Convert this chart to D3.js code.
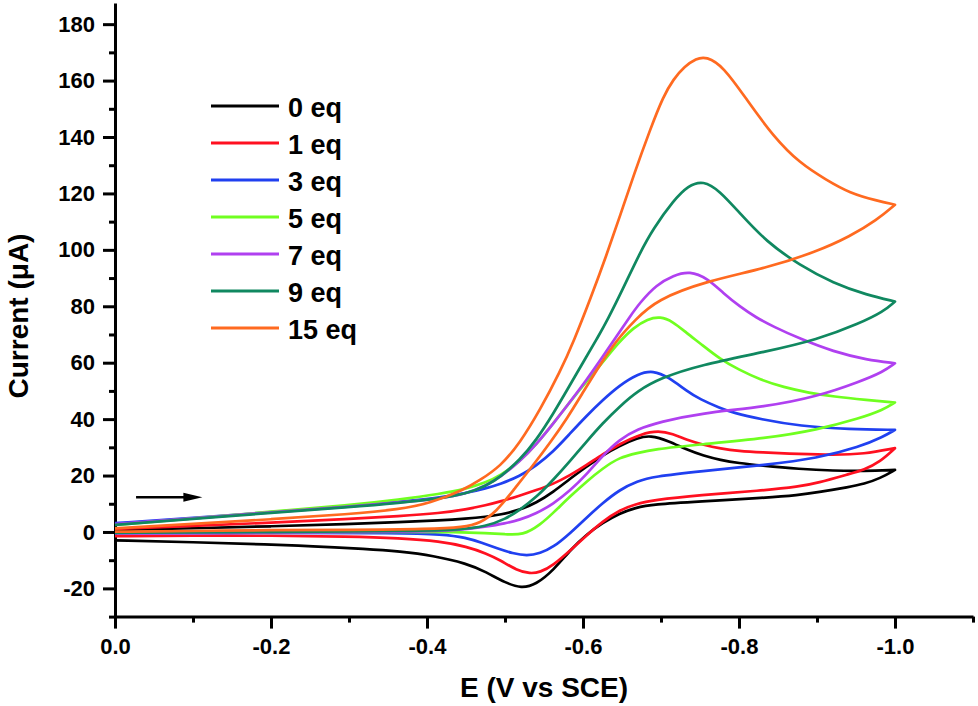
<!DOCTYPE html>
<html>
<head>
<meta charset="utf-8">
<script src="https://cdn.jsdelivr.net/npm/d3@7"></script>
<style>
  body { margin: 0; background: #fff; }
  text { font-family: "Liberation Sans", Arial, sans-serif; font-weight: bold; }
</style>
</head>
<body>
<div id="cv-chart"></div>
<script>
// cyclic voltammograms, one per equivalent added
// each series: forward scan 0 -> -1.0 V, then reverse scan -1.0 -> 0 V, [E (V), I (uA)]

const labels = ["0 eq", "1 eq", "3 eq", "5 eq", "7 eq", "9 eq", "15 eq"];
const colors = ["#000000", "#ff1020", "#2040f0", "#70ff20", "#b040f0", "#108860", "#ff6a20"];

const eq0Fwd = [[0, 0.7], [-0.1, 1.3], [-0.2, 2.0], [-0.3, 2.8], [-0.365, 3.5], [-0.417, 4.1], [-0.45, 4.7],
  [-0.476, 5.4], [-0.494, 6.1], [-0.519, 7.8], [-0.54, 10.3], [-0.562, 14.2], [-0.583, 18.8], [-0.605, 23.2],
  [-0.625, 27.2], [-0.647, 30.6], [-0.67, 33.3], [-0.686, 34.3], [-0.71, 32.3], [-0.733, 29.1], [-0.755, 27.0],
  [-0.776, 25.5], [-0.8, 24.4], [-0.827, 23.6], [-0.878, 22.3], [-0.921, 21.7], [-0.96, 21.6], [-1.0, 22.0]];
const eq0Rev = [[-1.0, 22.0], [-0.981, 19.0], [-0.96, 17.0], [-0.942, 16.0], [-0.9, 14.0], [-0.878, 13.1],
  [-0.827, 12.0], [-0.75, 10.8], [-0.69, 9.8], [-0.667, 8.6], [-0.647, 6.6], [-0.625, 3.2], [-0.605, -0.8],
  [-0.585, -6.0], [-0.562, -13.6], [-0.54, -18.6], [-0.521, -20.0], [-0.5, -18.0], [-0.476, -14.2],
  [-0.451, -11.2], [-0.408, -8.4], [-0.365, -6.9], [-0.323, -6.0], [-0.25, -5.0], [-0.2, -4.5], [-0.1, -3.6], [0, -3.0]];

const eq1Fwd = [[0, 1.1], [-0.1, 2.1], [-0.2, 3.3], [-0.3, 4.6], [-0.365, 5.6], [-0.417, 6.7], [-0.45, 8.0],
  [-0.476, 9.5], [-0.494, 10.8], [-0.519, 12.9], [-0.54, 14.8], [-0.562, 17.0], [-0.583, 20.0], [-0.605, 23.8],
  [-0.625, 27.5], [-0.647, 31.2], [-0.675, 34.8], [-0.697, 35.9], [-0.715, 34.8], [-0.733, 32.6], [-0.755, 30.8],
  [-0.776, 29.6], [-0.8, 28.7], [-0.827, 28.2], [-0.878, 27.6], [-0.921, 27.3], [-0.96, 27.6], [-1.0, 29.7]];
const eq1Rev = [[-1.0, 29.7], [-0.981, 24.9], [-0.96, 22.0], [-0.942, 20.6], [-0.9, 17.3], [-0.878, 16.1],
  [-0.827, 14.6], [-0.75, 13.1], [-0.69, 11.3], [-0.667, 9.8], [-0.647, 7.8], [-0.625, 3.7], [-0.605, -1.1],
  [-0.585, -6.2], [-0.562, -11.8], [-0.545, -14.3], [-0.532, -14.8], [-0.515, -13.6], [-0.494, -10.0],
  [-0.476, -7.6], [-0.451, -5.2], [-0.417, -3.3], [-0.365, -2.2], [-0.3, -1.6], [-0.2, -1.3], [-0.1, -1.3], [0, -1.5]];

const eq3Fwd = [[0, 3.1], [-0.1, 5.0], [-0.2, 7.0], [-0.3, 9.0], [-0.365, 10.7], [-0.417, 12.2], [-0.45, 13.8],
  [-0.476, 15.5], [-0.494, 17.0], [-0.519, 19.8], [-0.54, 23.5], [-0.562, 28.5], [-0.583, 34.8], [-0.605, 41.3],
  [-0.625, 46.7], [-0.647, 52.0], [-0.67, 56.0], [-0.69, 57.3], [-0.71, 54.8], [-0.733, 50.0], [-0.75, 47.0],
  [-0.776, 43.9], [-0.793, 42.2], [-0.827, 40.0], [-0.878, 37.5], [-0.942, 36.4], [-1.0, 36.2]];
const eq3Rev = [[-1.0, 36.2], [-0.985, 33.8], [-0.955, 30.2], [-0.9, 26.1], [-0.835, 23.8], [-0.75, 21.5],
  [-0.69, 19.6], [-0.67, 18.0], [-0.647, 15.0], [-0.625, 10.2], [-0.605, 5.2], [-0.583, -0.6], [-0.562, -5.4],
  [-0.545, -7.6], [-0.528, -8.5], [-0.51, -7.6], [-0.49, -5.8], [-0.47, -3.8], [-0.45, -2.0], [-0.42, -0.8],
  [-0.365, -0.3], [-0.2, -0.3], [0, -0.4]];

const eq5Fwd = [[0, 2.5], [-0.1, 4.8], [-0.2, 7.2], [-0.3, 9.5], [-0.365, 11.5], [-0.417, 13.5], [-0.45, 15.3],
  [-0.476, 17.6], [-0.494, 20.0], [-0.519, 25.0], [-0.54, 31.0], [-0.562, 38.5], [-0.583, 46.0], [-0.605, 53.5],
  [-0.625, 60.0], [-0.645, 67.0], [-0.665, 72.5], [-0.683, 75.5], [-0.699, 76.4], [-0.715, 74.6], [-0.733, 70.5],
  [-0.75, 66.9], [-0.776, 61.2], [-0.8, 57.5], [-0.827, 54.0], [-0.857, 51.3], [-0.89, 49.3], [-0.921, 48.0],
  [-0.964, 46.8], [-1.0, 45.9]];
const eq5Rev = [[-1.0, 45.9], [-0.985, 43.3], [-0.955, 40.3], [-0.9, 36.2], [-0.835, 33.2], [-0.75, 31.0],
  [-0.69, 29.3], [-0.67, 28.0], [-0.647, 26.5], [-0.625, 22.5], [-0.605, 18.0], [-0.583, 12.5], [-0.562, 6.8],
  [-0.545, 2.5], [-0.523, -1.2], [-0.5, -0.8], [-0.476, -0.4], [-0.44, 0.0], [-0.365, 0.1], [-0.2, -0.1], [0, -0.2]];

const eq7Fwd = [[0, 2.8], [-0.1, 4.8], [-0.2, 7.0], [-0.3, 9.0], [-0.365, 10.5], [-0.417, 11.9], [-0.45, 13.5],
  [-0.476, 16.5], [-0.494, 19.5], [-0.519, 25.0], [-0.54, 31.0], [-0.562, 38.5], [-0.579, 44.5], [-0.605, 54.0],
  [-0.625, 62.0], [-0.643, 69.3], [-0.66, 76.3], [-0.673, 81.3], [-0.694, 87.6], [-0.716, 91.0], [-0.737, 92.5],
  [-0.759, 90.0], [-0.78, 84.6], [-0.801, 79.9], [-0.822, 76.0], [-0.844, 72.8], [-0.878, 68.5], [-0.921, 63.9],
  [-0.964, 61.0], [-1.0, 59.8]];
const eq7Rev = [[-1.0, 59.8], [-0.985, 56.8], [-0.955, 53.3], [-0.9, 48.0], [-0.835, 44.4], [-0.75, 42.1],
  [-0.699, 39.0], [-0.67, 36.5], [-0.647, 32.8], [-0.625, 27.0], [-0.605, 20.5], [-0.583, 14.5], [-0.562, 10.0],
  [-0.54, 6.5], [-0.519, 4.3], [-0.5, 3.0], [-0.476, 1.9], [-0.44, 0.6], [-0.391, 0.1], [-0.2, -0.3], [0, -0.5]];

const eq9Fwd = [[0, 2.5], [-0.1, 4.6], [-0.2, 6.8], [-0.3, 8.8], [-0.365, 10.3], [-0.417, 11.9], [-0.45, 13.5],
  [-0.476, 16.3], [-0.494, 19.5], [-0.519, 25.5], [-0.54, 32.5], [-0.562, 42.0], [-0.579, 50.0], [-0.605, 62.5],
  [-0.618, 68.5], [-0.632, 75.5], [-0.65, 85.5], [-0.673, 99.0], [-0.69, 107.5], [-0.716, 117.5], [-0.735, 122.8],
  [-0.754, 124.6], [-0.775, 121.0], [-0.801, 113.0], [-0.835, 102.9], [-0.878, 94.5], [-0.921, 88.2], [-0.964, 84.0],
  [-1.0, 81.7]];
const eq9Rev = [[-1.0, 81.7], [-0.985, 78.1], [-0.955, 74.0], [-0.9, 68.1], [-0.835, 63.9], [-0.75, 59.2],
  [-0.699, 54.5], [-0.67, 50.0], [-0.647, 44.5], [-0.625, 38.5], [-0.605, 32.2], [-0.583, 25.0], [-0.562, 18.5],
  [-0.541, 12.5], [-0.519, 7.8], [-0.5, 4.5], [-0.476, 2.0], [-0.44, 0.8], [-0.39, 0.4], [-0.2, -0.1], [0, -0.3]];

const eq15Fwd = [[0, 1.3], [-0.1, 2.8], [-0.2, 4.5], [-0.3, 6.3], [-0.365, 8.0], [-0.404, 10.2], [-0.447, 14.9],
  [-0.468, 18.4], [-0.494, 23.2], [-0.519, 31.5], [-0.545, 43.3], [-0.571, 57.0], [-0.588, 67.5], [-0.61, 83.0],
  [-0.63, 98.0], [-0.648, 112.5], [-0.665, 126.5], [-0.686, 142.6], [-0.703, 154.5], [-0.716, 160.5],
  [-0.73, 165.0], [-0.745, 167.8], [-0.758, 168.6], [-0.78, 165.0], [-0.81, 153.2], [-0.844, 140.2],
  [-0.878, 130.7], [-0.912, 124.8], [-0.942, 120.1], [-0.977, 117.4], [-1.0, 116.0]];
const eq15Rev = [[-1.0, 116.0], [-0.977, 110.6], [-0.942, 104.7], [-0.9, 99.4], [-0.835, 93.5], [-0.759, 89.0],
  [-0.694, 82.3], [-0.667, 75.2], [-0.643, 68.0], [-0.62, 58.5], [-0.6, 49.5], [-0.579, 40.0], [-0.56, 32.5],
  [-0.536, 23.6], [-0.511, 14.9], [-0.489, 7.2], [-0.468, 3.1], [-0.447, 1.7], [-0.404, 1.0], [-0.3, 0.7],
  [-0.2, 0.7], [-0.1, 0.3], [0, 0.1]];

const series = [
  [eq0Fwd, eq0Rev], [eq1Fwd, eq1Rev], [eq3Fwd, eq3Rev], [eq5Fwd, eq5Rev],
  [eq7Fwd, eq7Rev], [eq9Fwd, eq9Rev], [eq15Fwd, eq15Rev]
];

// axes
const xTicks = [0, -0.2, -0.4, -0.6, -0.8, -1.0];
const xTickLabels = ["0.0", "-0.2", "-0.4", "-0.6", "-0.8", "-1.0"];
const xMinorTicks = [-0.1, -0.3, -0.5, -0.7, -0.9, -1.1];
const yTicks = [-20, 0, 20, 40, 60, 80, 100, 120, 140, 160, 180];
const yTickLabels = ["-20", "0", "20", "40", "60", "80", "100", "120", "140", "160", "180"];
const yMinorTicks = [-30, -10, 10, 30, 50, 70, 90, 110, 130, 150, 170];

// scan direction arrow, [E, I]
const arrowFrom = [-0.027, 12.3];
const arrowTo = [-0.112, 12.3];

const width = 978, height = 706;

const svg = d3.select("#cv-chart")
  .append("svg")
  .attr("width", width)
  .attr("height", height);

const x = d3.scaleLinear().domain([0, -1.1]).range([115, 973]);
const y = d3.scaleLinear().domain([-30, 187.5]).range([616.6, 3]);

const xAxis = svg.append("g")
  .attr("transform", "translate(0," + y(-30) + ")")
  .call(d3.axisBottom(x).tickValues(xTicks).tickSize(12).tickSizeOuter(0)
    .tickPadding(10).tickFormat((d, i) => xTickLabels[i]));

const xMinor = svg.append("g")
  .attr("transform", "translate(0," + y(-30) + ")")
  .call(d3.axisBottom(x).tickValues(xMinorTicks).tickSize(6).tickFormat(""));

const yAxis = svg.append("g")
  .attr("transform", "translate(" + x(0) + ",0)")
  .call(d3.axisLeft(y).tickValues(yTicks).tickSize(12).tickSizeOuter(0)
    .tickPadding(8).tickFormat((d, i) => yTickLabels[i]));

const yMinor = svg.append("g")
  .attr("transform", "translate(" + x(0) + ",0)")
  .call(d3.axisLeft(y).tickValues(yMinorTicks).tickSize(6).tickFormat(""));

[xAxis, xMinor, yAxis, yMinor].forEach(function (ax) {
  ax.selectAll("path.domain").attr("stroke", "#000").attr("stroke-width", 3);
  ax.selectAll(".tick line").attr("stroke", "#000").attr("stroke-width", 3);
  ax.selectAll(".tick text")
    .attr("font-size", "22px")
    .attr("font-weight", "bold")
    .attr("font-family", "Liberation Sans, Arial, sans-serif")
    .attr("fill", "#000");
});
xMinor.select("path.domain").remove();
yMinor.select("path.domain").remove();

// axis titles
svg.append("text")
  .attr("x", 544)
  .attr("y", 697)
  .attr("text-anchor", "middle")
  .attr("font-size", "28px")
  .text("E (V vs SCE)");

svg.append("text")
  .attr("transform", "translate(28,316) rotate(-90)")
  .attr("text-anchor", "middle")
  .attr("font-size", "28px")
  .text("Current (\u03bcA)");

// curves: smooth spline, vertex repeated so the turn at -1.0 V stays sharp
const line = d3.line()
  .x(d => x(d[0]))
  .y(d => y(d[1]))
  .curve(d3.curveBasis);

svg.append("g")
  .selectAll("path")
  .data(series)
  .enter()
  .append("path")
  .attr("d", d => line(d[0].concat([d[0][d[0].length - 1]], d[1])))
  .attr("fill", "none")
  .attr("stroke", (d, i) => colors[i])
  .attr("stroke-width", 2.7)
  .attr("stroke-linejoin", "round");

// arrow
svg.append("line")
  .attr("x1", x(arrowFrom[0]))
  .attr("y1", y(arrowFrom[1]))
  .attr("x2", x(arrowTo[0]) - 12)
  .attr("y2", y(arrowTo[1]))
  .attr("stroke", "#000")
  .attr("stroke-width", 2.5);

const ax = x(arrowTo[0]), ay = y(arrowTo[1]);
svg.append("path")
  .attr("d", "M" + ax + "," + ay + "L" + (ax - 19) + "," + (ay - 4.5) + "L" + (ax - 19) + "," + (ay + 4.5) + "Z")
  .attr("fill", "#000");

// legend
const legend = svg.append("g")
  .attr("transform", "translate(211,106)");

const rows = legend.selectAll("g")
  .data(labels)
  .enter()
  .append("g")
  .attr("transform", (d, i) => "translate(0," + i * 37 + ")");

rows.append("line")
  .attr("x1", 0)
  .attr("x2", 68)
  .attr("stroke", (d, i) => colors[i])
  .attr("stroke-width", 3);

rows.append("text")
  .attr("x", 77)
  .attr("y", 11)
  .attr("font-size", "27px")
  .text(d => d);
</script>
</body>
</html>
